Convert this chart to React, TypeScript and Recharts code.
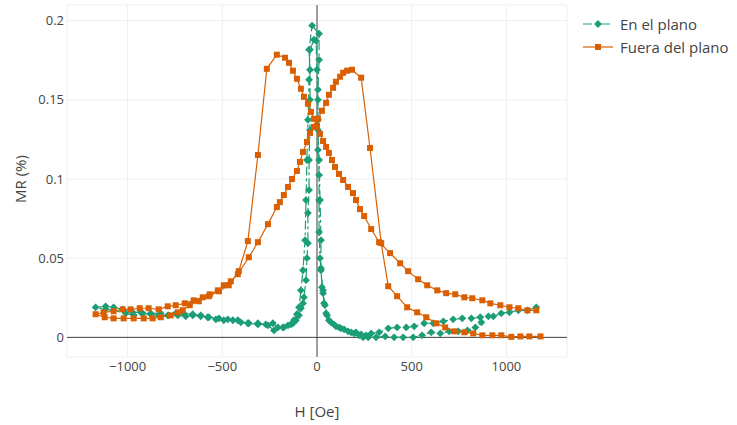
import React from 'react';
import { ScatterChart, Scatter, XAxis, YAxis, CartesianGrid, ReferenceLine, Label } from 'recharts';

const VERDE = '#1b9e77';
const NARANJA = '#d95f02';
const TEXTO = '#444';

// En el plano: barrido de +H a -H y vuelta (H [Oe], MR %)
const planoBajada: number[][] = [
  [1158, 0.019], [1111, 0.0171], [1063, 0.0171], [1016, 0.0158], [973, 0.0152], [931, 0.0133], [905, 0.0133],
  [862, 0.0127], [815, 0.012], [767, 0.012], [719, 0.0114], [667, 0.0101], [614, 0.0089], [566, 0.0089],
  [513, 0.007], [471, 0.0063], [423, 0.0063], [376, 0.0057], [328, 0.0032], [286, 0.0025], [259, 0.0013],
  [233, 0.0019], [206, 0.0032], [180, 0.0032], [143, 0.0051], [116, 0.0063], [90, 0.0082], [63, 0.0108],
  [48, 0.0152], [37, 0.0215], [32, 0.0279], [26, 0.0317], [21, 0.0437], [16, 0.05], [11, 0.0665],
  [11, 0.0867], [11, 0.1025], [5, 0.1184], [5, 0.1374], [5, 0.1564], [11, 0.1753], [11, 0.1918],
  [-26, 0.1969], [-42, 0.1817], [-37, 0.169], [-37, 0.15], [-37, 0.131], [-42, 0.112], [-42, 0.093],
  [-48, 0.0785], [-48, 0.0595], [-53, 0.05], [-58, 0.0361], [-69, 0.0253], [-74, 0.0215], [-85, 0.0184],
  [-95, 0.0139], [-111, 0.0108], [-127, 0.0089], [-153, 0.0076], [-180, 0.0063], [-206, 0.0063],
  [-233, 0.0089], [-270, 0.0082], [-312, 0.0089], [-360, 0.0089], [-402, 0.0095], [-444, 0.0108],
  [-492, 0.0108], [-534, 0.0114], [-577, 0.0127], [-614, 0.0139], [-656, 0.0146], [-704, 0.0152],
  [-746, 0.0152], [-788, 0.0139], [-825, 0.0152], [-878, 0.0152], [-931, 0.0158], [-973, 0.0158],
  [-1026, 0.0177], [-1074, 0.019], [-1116, 0.0196], [-1169, 0.019],
];

const planoSubida: number[][] = [
  [-1116, 0.0177], [-1074, 0.0171], [-1010, 0.0152], [-968, 0.0139], [-920, 0.0152], [-878, 0.0146],
  [-836, 0.0139], [-783, 0.0139], [-735, 0.0139], [-693, 0.0133], [-656, 0.0139], [-614, 0.0133],
  [-571, 0.0127], [-518, 0.012], [-471, 0.0114], [-418, 0.0108], [-365, 0.0089], [-312, 0.0082],
  [-259, 0.0076], [-227, 0.0044], [-175, 0.0063], [-138, 0.0082], [-122, 0.0108], [-106, 0.0146],
  [-95, 0.019], [-85, 0.0297], [-74, 0.0424], [-63, 0.0614], [-58, 0.0867], [-53, 0.112], [-48, 0.1374],
  [-42, 0.1627], [-37, 0.1817], [-16, 0.188], [-5, 0.1874], [0, 0.169], [5, 0.15], [5, 0.131],
  [11, 0.112], [16, 0.0867], [21, 0.0614], [21, 0.0424], [32, 0.0297], [42, 0.0203], [53, 0.0139],
  [74, 0.0095], [100, 0.007], [127, 0.0057], [164, 0.0038], [196, 0.0025], [222, 0.0013], [243, 0],
  [270, 0], [312, 0], [360, 0.0006], [407, 0], [455, 0], [508, 0], [555, 0.0013], [603, 0.0032],
  [651, 0.0025], [698, 0.0038], [746, 0.0038], [794, 0.0044], [836, 0.0063], [868, 0.0095],
];

// Fuera del plano
const fueraBajada: number[][] = [
  [1158, 0.0171], [1111, 0.0171], [1063, 0.0184], [1016, 0.019], [968, 0.0203], [915, 0.0215],
  [873, 0.0234], [820, 0.0247], [778, 0.0253], [730, 0.0272], [682, 0.0279], [635, 0.0297], [582, 0.0329],
  [534, 0.0367], [481, 0.0418], [439, 0.0468], [386, 0.0532], [328, 0.0601], [286, 0.0684], [249, 0.0766],
  [227, 0.081], [206, 0.0867], [190, 0.0911], [164, 0.095], [138, 0.0994], [116, 0.1032], [95, 0.1076],
  [79, 0.112], [63, 0.1165], [48, 0.1203], [32, 0.124], [16, 0.1285], [0, 0.1336], [-16, 0.138],
  [-32, 0.1424], [-48, 0.1475], [-69, 0.1519], [-85, 0.157], [-106, 0.1633], [-127, 0.1684],
  [-148, 0.1734], [-169, 0.1766], [-212, 0.1785], [-265, 0.1696], [-312, 0.1152], [-365, 0.0608],
  [-413, 0.0418], [-466, 0.0329], [-518, 0.0291], [-571, 0.026], [-624, 0.0228], [-672, 0.0203],
  [-709, 0.0171], [-735, 0.0158], [-772, 0.0139], [-825, 0.0127], [-868, 0.012], [-915, 0.012],
  [-968, 0.012], [-1021, 0.012], [-1074, 0.012], [-1121, 0.0127], [-1169, 0.0146],
];

const fueraSubida: number[][] = [
  [-1127, 0.0158], [-1074, 0.0165], [-1026, 0.0177], [-984, 0.0177], [-936, 0.0184], [-889, 0.0184],
  [-836, 0.0177], [-788, 0.0196], [-746, 0.0203], [-698, 0.0215], [-651, 0.0234], [-603, 0.0253],
  [-566, 0.0272], [-524, 0.0297], [-492, 0.0329], [-455, 0.0354], [-418, 0.0399], [-360, 0.0506],
  [-312, 0.0601], [-259, 0.0715], [-212, 0.0823], [-196, 0.0854], [-175, 0.0899], [-153, 0.095],
  [-132, 0.1], [-106, 0.1051], [-90, 0.1108], [-74, 0.1171], [-53, 0.1234], [-37, 0.1291], [-16, 0.1329],
  [5, 0.138], [26, 0.1431], [48, 0.1481], [63, 0.1532], [85, 0.1576], [100, 0.1614], [122, 0.1646],
  [138, 0.1671], [159, 0.1684], [185, 0.169], [233, 0.164], [280, 0.1196], [339, 0.0595], [376, 0.0323],
  [423, 0.026], [476, 0.019], [529, 0.0158], [577, 0.0127], [630, 0.0089], [677, 0.0063], [725, 0.0038],
  [778, 0.0032], [825, 0.0025], [873, 0.0013], [926, 0.0013], [973, 0.0013], [1026, 0.0003],
  [1074, 0.0006], [1121, 0.0006], [1180, 0.0006],
];

const xTicks = [-1000, -500, 0, 500, 1000];
const yTicks = [0, 0.05, 0.1, 0.15, 0.2];

const toPoints = (rows: number[][]) => rows.map(([h, mr]) => ({ h, mr }));
const enElPlano = toPoints([...planoBajada, ...planoSubida]);
const fueraDelPlano = toPoints([...fueraBajada, ...fueraSubida]);

const DASH_VERDE = '9 3 3 3';

function Diamond({ cx, cy, color }: any) {
  const r = 3.9;
  return <path d={`M${cx - r},${cy}L${cx},${cy - r}L${cx + r},${cy}L${cx},${cy + r}Z`} fill={color} />;
}

function Square({ cx, cy, color }: any) {
  return <rect x={cx - 3} y={cy - 3} width={6} height={6} fill={color} />;
}

const legendItems = [
  { name: 'En el plano', color: VERDE, dash: DASH_VERDE, marker: 'diamond' },
  { name: 'Fuera del plano', color: NARANJA, dash: undefined, marker: 'square' },
];

function Leyenda() {
  return (
    <div style={{ position: 'absolute', left: 582, top: 12, fontSize: 15, color: TEXTO }}>
      {legendItems.map((item) => (
        <div key={item.name} style={{ display: 'flex', alignItems: 'center', height: 23 }}>
          <svg width={32} height={16}>
            <line x1={1} x2={31} y1={8} y2={8} stroke={item.color} strokeWidth={1.2} strokeDasharray={item.dash} />
            {item.marker === 'diamond' ? <Diamond cx={16} cy={8} color={item.color} /> : <Square cx={16} cy={8} color={item.color} />}
          </svg>
          <span style={{ marginLeft: 6, whiteSpace: 'nowrap' }}>{item.name}</span>
        </div>
      ))}
    </div>
  );
}

const fmtX = (v: number) => (v < 0 ? `\u2212${Math.abs(v)}` : String(v));

export default function App() {
  return (
    <div style={{ position: 'absolute', left: 0, top: 0, width: 737, height: 425, fontFamily: '"Open Sans", sans-serif', background: '#fff' }}>
      <ScatterChart width={737} height={425} margin={{ top: 5, right: 170, bottom: 0, left: 0 }}>
        <CartesianGrid stroke="#eee" />
        <XAxis
          dataKey="h"
          type="number"
          domain={[-1320, 1320]}
          ticks={xTicks}
          tickFormatter={fmtX}
          allowDataOverflow
          axisLine={false}
          tickLine={false}
          tickSize={0}
          tickMargin={5}
          height={68}
          tick={{ fill: TEXTO, fontSize: 13 }}
        >
          <Label
            content={({ viewBox }: any) => (
              <text x={viewBox.x + viewBox.width / 2} y={411} textAnchor="middle" dominantBaseline="central" fill={TEXTO} fontSize={15}>
                H [Oe]
              </text>
            )}
          />
        </XAxis>
        <YAxis
          dataKey="mr"
          type="number"
          domain={[-0.0124, 0.2099]}
          ticks={yTicks}
          allowDataOverflow
          axisLine={false}
          tickLine={false}
          tickSize={0}
          tickMargin={3}
          width={67}
          tick={{ fill: TEXTO, fontSize: 13 }}
        >
          <Label
            content={() => (
              <text x={20} y={179} transform="rotate(-90 20 179)" textAnchor="middle" dominantBaseline="central" fill={TEXTO} fontSize={15}>
                MR (%)
              </text>
            )}
          />
        </YAxis>
        <ReferenceLine x={0} stroke={TEXTO} strokeWidth={1} />
        <ReferenceLine y={0} stroke={TEXTO} strokeWidth={1} />
        <Scatter
          name="En el plano"
          data={enElPlano}
          fill={VERDE}
          line={{ stroke: VERDE, strokeWidth: 1.2, strokeDasharray: DASH_VERDE }}
          lineType="joint"
          shape={(p: any) => <Diamond cx={p.cx} cy={p.cy} color={VERDE} />}
          isAnimationActive={false}
        />
        <Scatter
          name="Fuera del plano"
          data={fueraDelPlano}
          fill={NARANJA}
          line={{ stroke: NARANJA, strokeWidth: 1.2 }}
          lineType="joint"
          shape={(p: any) => <Square cx={p.cx} cy={p.cy} color={NARANJA} />}
          isAnimationActive={false}
        />
      </ScatterChart>
      <Leyenda />
    </div>
  );
}
